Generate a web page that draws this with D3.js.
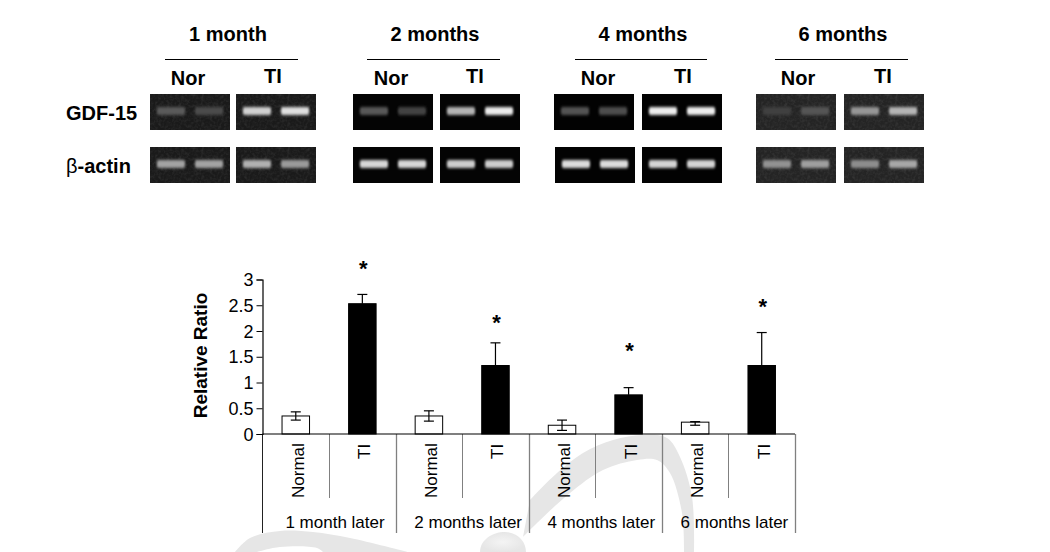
<!DOCTYPE html>
<html><head><meta charset="utf-8">
<script src="https://cdnjs.cloudflare.com/ajax/libs/d3/7.8.5/d3.min.js"></script>
<style>html,body{margin:0;padding:0;background:#fff}svg{display:block}text{font-family:"Liberation Sans",Arial,sans-serif;fill:#000}</style>
</head><body><svg id="c" width="1050" height="552"></svg>
<script>
const categories=["Normal","TI","Normal","TI","Normal","TI","Normal","TI"];
const groupLabels=["1 month later","2 months later","4 months later","6 months later"];
const values=[0.35,2.53,0.35,1.33,0.17,0.76,0.23,1.33];
const errUpper=[0.43,2.71,0.45,1.77,0.27,0.90,0.24,1.97];
const errLower=[0.27,2.53,0.25,1.33,0.07,0.76,0.17,1.33];
const starValues=[null,3.26,null,2.21,null,1.67,null,2.52];
const yTicks=[0,0.5,1,1.5,2,2.5,3];
const monthTitles=["1 month","2 months","4 months","6 months"];
const gelGdfNor=[[0.28,0.22],[0.34,0.25],[0.32,0.3],[0.13,0.22]];
const gelGdfTi=[[0.8,0.86],[0.7,0.92],[0.93,0.93],[0.52,0.66]];
const gelActinNor=[[0.6,0.6],[0.84,0.84],[0.86,0.86],[0.5,0.56]];
const gelActinTi=[[0.66,0.56],[0.8,0.8],[0.83,0.83],[0.48,0.6]];
const gelBackground=[26,4,2,36];

const svg=d3.select("#c");
const defs=svg.append("defs");
defs.append("filter").attr("id","blur").attr("x","-30%").attr("y","-100%").attr("width","160%").attr("height","300%")
  .append("feGaussianBlur").attr("stdDeviation","1.1 1.5");
const noise=defs.append("filter").attr("id","noise").attr("x","0").attr("y","0").attr("width","100%").attr("height","100%");
noise.append("feTurbulence").attr("type","fractalNoise").attr("baseFrequency","0.35").attr("numOctaves",2).attr("seed",4);
noise.append("feColorMatrix").attr("type","matrix").attr("values","0 0 0 0 1  0 0 0 0 1  0 0 0 0 1  0.5 0.5 0 0 -0.42");
const blobGrad=defs.append("radialGradient").attr("id","blob");
blobGrad.append("stop").attr("offset","0%").attr("stop-color","#f4f4f4");
blobGrad.append("stop").attr("offset","100%").attr("stop-color","#e6e6e6");

// watermark
const wm=svg.append("g").attr("fill","#e6e6e6");
const smooth=d3.line().curve(d3.curveCatmullRom);
const swooshB=[[523,537],[530,500],[557,473],[583,453],[613,440],[643,435],[667,438],[680,457],[692,497],[694,552]];
const swooshBInner=[[684,552],[682,513],[670,473],[657,460],[637,460],[603,470],[570,493],[537,523],[523,537]];
const swooshA=[[235,552],[250,538],[280,531],[313,532],[350,538],[408,552]];
const swooshAInner=[[323,552],[317,548],[280,547],[257,552]];
wm.append("path").attr("d",smooth(swooshB.slice(1))+"L"+smooth(swooshBInner).slice(1)+"Z");
wm.append("path").attr("d",smooth(swooshA)+"L"+smooth(swooshAInner).slice(1)+"Z");
wm.append("path").attr("fill","url(#blob)").attr("d","M480 552 C480 540 492 532 505 532 C518 532 526 542 526 552 Z");

// Gel panels
const gelX=[[150,236],[353,440],[554,642],[756,844]];
const rowY=[94,147];
const gelW=80,gelH=36;
const gel=svg.append("g");
const bandX=d3.scaleBand().domain([0,1]).range([0,gelW]).paddingInner(0.26).paddingOuter(0.18);
function drawPanel(px,py,levels,bg){
  const g=gel.append("g").attr("transform",`translate(${px},${py})`);
  g.append("rect").attr("width",gelW).attr("height",gelH).attr("fill",d3.rgb(bg,bg,bg));
  if(bg>10) g.append("rect").attr("width",gelW).attr("height",gelH).attr("filter","url(#noise)").attr("opacity",0.22);
  g.selectAll("rect.b").data(levels).join("rect").attr("class","b")
    .attr("x",(d,i)=>bandX(i)).attr("y",13).attr("width",bandX.bandwidth()).attr("height",8).attr("rx",2)
    .attr("fill",d=>{const v=Math.round(bg+(255-bg)*d);return d3.rgb(v,v,v)})
    .attr("filter","url(#blur)");
}
monthTitles.forEach((t,i)=>{
  drawPanel(gelX[i][0],rowY[0],gelGdfNor[i],gelBackground[i]);
  drawPanel(gelX[i][1],rowY[0],gelGdfTi[i],gelBackground[i]);
  drawPanel(gelX[i][0]+(i==2?1:0),rowY[1],gelActinNor[i],gelBackground[i]);
  drawPanel(gelX[i][1],rowY[1],gelActinTi[i],gelBackground[i]);
});
// gel labels
const titleCx=[228,435,643,843];
const lineX=[[165,298],[367,500],[575,707],[775,908]];
const norX=[188,391,598,798];
const tiX=[273,475,683,883];
monthTitles.forEach((t,i)=>{
  svg.append("text").attr("x",titleCx[i]).attr("y",41).attr("text-anchor","middle").attr("font-size",20).attr("font-weight","bold").text(t);
  svg.append("line").attr("x1",lineX[i][0]).attr("x2",lineX[i][1]).attr("y1",59.5).attr("y2",59.5).attr("stroke","#000").attr("stroke-width",1);
  svg.append("text").attr("x",norX[i]).attr("y",85).attr("text-anchor","middle").attr("font-size",20).attr("font-weight","bold").text("Nor");
  svg.append("text").attr("x",tiX[i]).attr("y",83).attr("text-anchor","middle").attr("font-size",20).attr("font-weight","bold").text("TI");
});
svg.append("text").attr("x",66).attr("y",120).attr("font-size",20).attr("font-weight","bold").text("GDF-15");
const ba=svg.append("text").attr("x",66).attr("y",173).attr("font-size",20).attr("font-weight","bold");
ba.append("tspan").attr("font-weight","normal").text("β");
ba.append("tspan").text("-actin");

// Bar chart
const x=d3.scaleBand().domain(d3.range(8)).range([262.5,795]);
const y=d3.scaleLinear().domain([0,3]).range([434,279.5]);
const bw=27.5;
const chart=svg.append("g");
const sep=chart.append("g").attr("stroke","#808080");
d3.range(1,9).forEach(i=>{
  const px=Math.round(262.5+i*x.bandwidth())+.5;
  sep.append("line").attr("x1",px).attr("x2",px).attr("y1",434).attr("y2",i%2==0?533:498).attr("stroke-width",i%2==0?1.3:1);
});
chart.append("line").attr("x1",262.5).attr("x2",262.5).attr("y1",434).attr("y2",533).attr("stroke","#222");

const cx=i=>x(i)+x.bandwidth()/2;
chart.selectAll("rect.bar").data(values).join("rect").attr("class","bar")
  .attr("x",(d,i)=>cx(i)-bw/2).attr("width",bw).attr("y",d=>y(d)).attr("height",d=>y(0)-y(d))
  .attr("fill",(d,i)=>i%2?"#000":"#fff").attr("stroke","#000").attr("stroke-width",1);
const err=chart.append("g").attr("stroke","#000").attr("stroke-width",1.2);
values.forEach((v,i)=>{
  const c=cx(i);
  err.append("line").attr("x1",c).attr("x2",c).attr("y1",y(errUpper[i])).attr("y2",y(errLower[i]));
  err.append("line").attr("x1",c-5).attr("x2",c+5).attr("y1",y(errUpper[i])).attr("y2",y(errUpper[i]));
  if(i%2==0) err.append("line").attr("x1",c-5).attr("x2",c+5).attr("y1",y(errLower[i])).attr("y2",y(errLower[i]));
});
const yAxis=d3.axisLeft(y).tickValues(yTicks).tickSize(6).tickFormat(d=>String(d));
const ya=svg.append("g").attr("transform","translate(262.5,0)").call(yAxis);
ya.selectAll("text").attr("font-size",18).attr("dy","0.34em").attr("x",-9);
ya.select(".domain").attr("stroke","#000").attr("stroke-width",1.2);
svg.append("line").attr("x1",262.5).attr("x2",795).attr("y1",434).attr("y2",434).attr("stroke","#000").attr("stroke-width",1.2);
svg.append("text").attr("transform","translate(207,355.5) rotate(-90)").attr("text-anchor","middle").attr("font-size",19).attr("font-weight","bold").text("Relative Ratio");
categories.forEach((c,i)=>{
  svg.append("text").attr("transform",`translate(${cx(i)+8},${c=="TI"?459:498}) rotate(-90)`).attr("font-size",17).text(c);
});
groupLabels.forEach((g,i)=>{
  svg.append("text").attr("x",262.5+x.bandwidth()*(2*i+1)+6).attr("y",528).attr("text-anchor","middle").attr("font-size",17).text(g);
});
starValues.forEach((v,i)=>{ if(v!==null) svg.append("text").attr("x",cx(i)+1).attr("y",y(v)+10).attr("text-anchor","middle").attr("font-size",22).attr("font-weight","bold").text("*"); });
</script></body></html>
